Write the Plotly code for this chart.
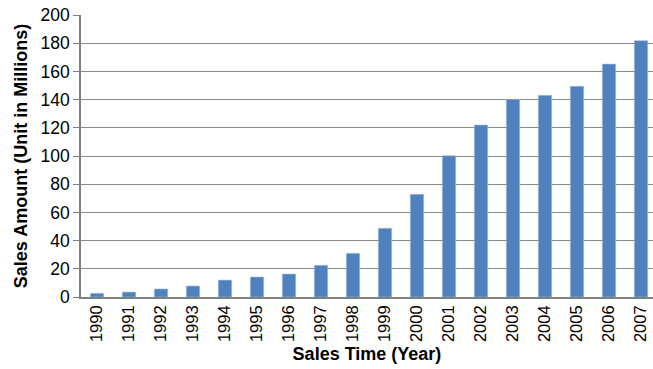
import plotly.graph_objects as go

years = ["1990", "1991", "1992", "1993", "1994", "1995", "1996", "1997", "1998",
         "1999", "2000", "2001", "2002", "2003", "2004", "2005", "2006", "2007"]
sales = [2.6, 3.5, 5.7, 7.8, 12, 14.2, 16.3, 22.5, 31, 48.7, 72.8, 100.2,
         122, 140.2, 143, 149.4, 165.2, 181.8]
y_ticks = [0, 20, 40, 60, 80, 100, 120, 140, 160, 180, 200]

fig = go.Figure(go.Bar(
    x=years, y=sales,
    marker=dict(color="#4f81bd", line=dict(color="#a9c0e0", width=0.6)),
    width=0.42,
))

font_family = "Liberation Sans, Arial, sans-serif"
fig.update_layout(
    width=653, height=369,
    margin=dict(l=81, r=0, t=15, b=72),
    paper_bgcolor="white", plot_bgcolor="white",
    showlegend=False,
    font=dict(family=font_family, color="black", size=17),
    xaxis=dict(
        type="category",
        range=[-0.5, 17.375],
        tickangle=-90,
        tickfont=dict(size=16.5),
        showgrid=False,
        showline=True, linecolor="#808080", linewidth=1.5,
        ticks="",
        title=dict(text="<b>Sales Time (Year)</b>", font=dict(size=18), standoff=6),
    ),
    yaxis=dict(
        range=[0, 200],
        tickvals=y_ticks,
        tickfont=dict(size=17.5),
        showgrid=True, gridcolor="#8a8a8a", gridwidth=1,
        showline=True, linecolor="#808080", linewidth=1.5,
        ticks="outside", ticklen=6, tickcolor="#808080",
        zeroline=False,
        title=dict(text="<b>Sales Amount (Unit in Millions)</b>", font=dict(size=18), standoff=8),
    ),
)

fig.write_html("out.html")
